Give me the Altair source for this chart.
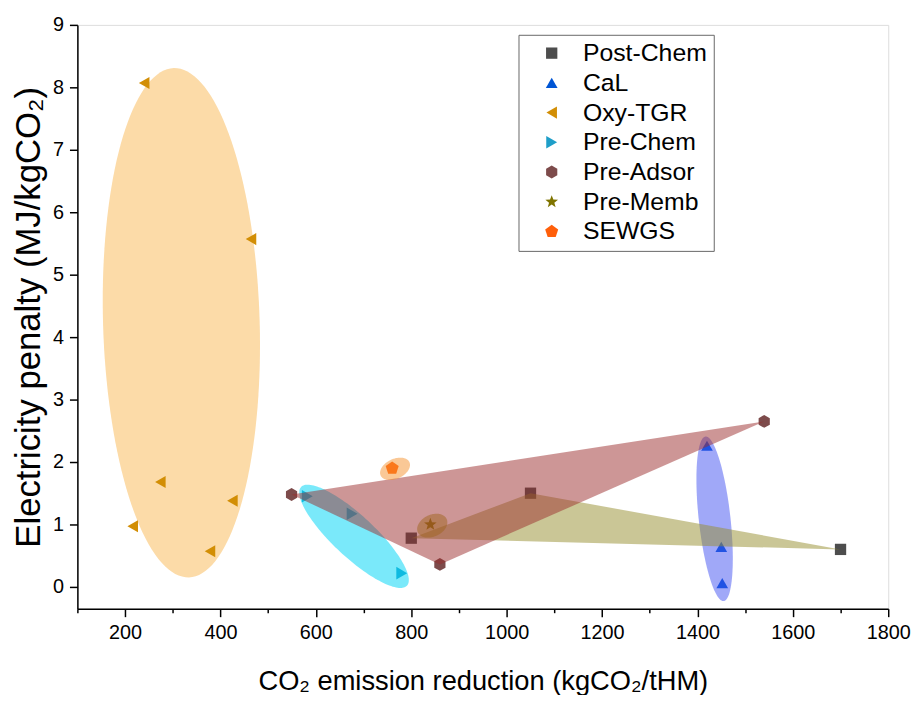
import altair as alt
import pandas as pd
import numpy as np

# ---------------- data ----------------
series = ["Post-Chem", "CaL", "Oxy-TGR", "Pre-Chem", "Pre-Adsor", "Pre-Memb", "SEWGS"]

post_chem_x = [800, 1050, 1700]
post_chem_y = [0.78, 1.50, 0.60]
cal_x = [1420, 1450, 1452]
cal_y = [2.26, 0.64, 0.06]
oxy_x = [240, 464, 216, 274, 425, 378]
oxy_y = [8.07, 5.57, 0.97, 1.68, 1.38, 0.57]
pre_chem_x = [582, 676, 780]
pre_chem_y = [1.45, 1.17, 0.22]
pre_adsor_x = [549, 860, 1540]
pre_adsor_y = [1.48, 0.36, 2.65]
pre_memb_x = [840]
pre_memb_y = [1.00]
sewgs_x = [760]
sewgs_y = [1.90]

x_ticks = list(range(100, 1801, 100))
y_ticks = [i * 0.5 for i in range(0, 19)]

# ---------------- styles ----------------
marker_colors = ["#4D4D4D", "#0055D4", "#D28E05", "#1E9EC8", "#7D4B4B", "#7F7400", "#FF5F0A"]
hexagon = "M0,-1L0.866,-0.5L0.866,0.5L0,1L-0.866,0.5L-0.866,-0.5Z"
pentagon = "M0,-1L0.951,-0.309L0.588,0.809L-0.588,0.809L-0.951,-0.309Z"
star_pts = []
for k in range(10):
    r = 1.0 if k % 2 == 0 else 0.42
    a = np.radians(-90 + 36 * k)
    star_pts.append(f"{r*np.cos(a):.3f},{r*np.sin(a):.3f}")
star = "M" + "L".join(star_pts) + "Z"
marker_shapes = ["square", "triangle-up", "triangle-left", "triangle-right", hexagon, star, pentagon]
marker_sizes = [130, 190, 190, 190, 150, 200, 170]

X_MIN, X_MAX = 100, 1800
Y_MIN, Y_MAX = -0.35, 9
W, H = 818, 589
PX_X = W / (X_MAX - X_MIN)
PX_Y = H / (Y_MAX - Y_MIN)

FONT = "Liberation Sans"

# ---------------- frames ----------------
groups = [
    (post_chem_x, post_chem_y), (cal_x, cal_y), (oxy_x, oxy_y), (pre_chem_x, pre_chem_y),
    (pre_adsor_x, pre_adsor_y), (pre_memb_x, pre_memb_y), (sewgs_x, sewgs_y),
]
rows = []
for name, (xs_, ys_) in zip(series, groups):
    for xv, yv in zip(xs_, ys_):
        rows.append({"series": name, "x": xv, "y": yv})
pts = pd.DataFrame(rows)


def ellipse_df(cx, cy, a, b, ang):
    t = np.linspace(0, 2 * np.pi, 145)
    ph = np.radians(ang)
    dx = a * np.cos(t) * np.cos(ph) - b * np.sin(t) * np.sin(ph)
    dy = a * np.cos(t) * np.sin(ph) + b * np.sin(t) * np.cos(ph)
    return pd.DataFrame({"x": cx + dx / PX_X, "y": cy + dy / PX_Y, "o": np.arange(len(t))})


def hull_df(xs_, ys_):
    xx = list(xs_) + [xs_[0]]
    yy = list(ys_) + [ys_[0]]
    return pd.DataFrame({"x": xx, "y": yy, "o": list(range(len(xx)))})


xscale = alt.Scale(domain=[X_MIN, X_MAX], nice=False, zero=False)
yscale = alt.Scale(domain=[Y_MIN, Y_MAX], nice=False, zero=False)

x_axis = alt.Axis(
    values=x_ticks, format="d",
    labelExpr="datum.value % 200 === 0 ? datum.label : ''",
    tickSize={"condition": {"test": "datum.value % 200 === 0", "value": 8}, "value": 4},
    title="CO₂ emission reduction (kgCO₂/tHM)",
    titleFontSize=27.5, titleFontWeight="normal", titleFont=FONT, titlePadding=25,
    labelFontSize=20, labelFont=FONT, labelPadding=6, labelColor="black",
    domainColor="black", domainWidth=1.5, tickColor="black", tickWidth=1.5,
    grid=False, labelFlush=False,
)
y_axis = alt.Axis(
    values=y_ticks, format="d",
    labelExpr="datum.value % 1 === 0 ? datum.label : ''",
    tickSize={"condition": {"test": "datum.value % 1 === 0", "value": 8}, "value": 4},
    title="Electricity penalty (MJ/kgCO₂)",
    titleFontSize=35, titleFontWeight="normal", titleFont=FONT, titlePadding=6,
    labelFontSize=20, labelFont=FONT, labelPadding=6, labelColor="black",
    domainColor="black", domainWidth=1.5, tickColor="black", tickWidth=1.5,
    grid=False, labelFlush=False,
)


def enc(ch):
    return ch.encode(
        x=alt.X("x:Q", scale=xscale, axis=x_axis),
        y=alt.Y("y:Q", scale=yscale, axis=y_axis),
        order="o:Q",
    )


def shape_layer(df, color, opacity):
    return enc(alt.Chart(df).mark_line(
        fill=color, fillOpacity=opacity, stroke=color, strokeOpacity=0, strokeWidth=0
    ))


ellipses = {
    "Oxy-TGR": dict(cx=318, cy=4.23, a=79, b=257, ang=1.7, color="#FCDBA8", op=1.0),
    "Pre-Chem": dict(cx=680, cy=0.81, a=73, b=21, ang=-43, color="#00D4F5", op=0.52),
    "CaL": dict(cx=1436, cy=1.09, a=16, b=83.5, ang=6.3, color="#4151F1", op=0.5),
    "SEWGS": dict(cx=766, cy=1.89, a=16, b=10, ang=25, color="#F5912D", op=0.5),
    "Pre-Memb": dict(cx=844, cy=0.98, a=16, b=11, ang=25, color="#A0641E", op=0.5),
}


def ell_layer(key):
    p = ellipses[key]
    return shape_layer(ellipse_df(p["cx"], p["cy"], p["a"], p["b"], p["ang"]), p["color"], p["op"])


markers = alt.Chart(pts).mark_point(filled=True, opacity=1, strokeWidth=0).encode(
    x=alt.X("x:Q", scale=xscale, axis=x_axis),
    y=alt.Y("y:Q", scale=yscale, axis=y_axis),
    color=alt.Color("series:N", scale=alt.Scale(domain=series, range=marker_colors),
                    legend=alt.Legend(
                        orient="none", legendX=445, legendY=10, title=None,
                        strokeColor="#666666", fillColor="white", padding=6,
                        labelFont=FONT, labelFontSize=25, labelColor="black",
                        symbolSize=150, symbolOffset=15, labelOffset=19, rowPadding=4,
                        symbolStrokeWidth=0, symbolOpacity=1,
                    )),
    shape=alt.Shape("series:N", scale=alt.Scale(domain=series, range=marker_shapes)),
    size=alt.Size("series:N", scale=alt.Scale(domain=series, range=marker_sizes), legend=None),
)

red_hull = shape_layer(hull_df(pre_adsor_x, pre_adsor_y), "#9B2D2D", 0.5)
olive_hull = shape_layer(hull_df(post_chem_x, post_chem_y), "#958D2D", 0.5)

chart = alt.layer(
    ell_layer("Oxy-TGR"),
    markers,
    ell_layer("Pre-Chem"),
    ell_layer("CaL"),
    olive_hull,
    red_hull,
    ell_layer("SEWGS"),
    ell_layer("Pre-Memb"),
).properties(
    width=W, height=H,
    autosize=alt.AutoSizeParams(type="none"),
    padding={"left": 70, "top": 14, "right": 26, "bottom": 84},
).configure_view(stroke=None).configure(background="white")

chart.save("out.html", embed_options={"renderer": "svg", "actions": False})
